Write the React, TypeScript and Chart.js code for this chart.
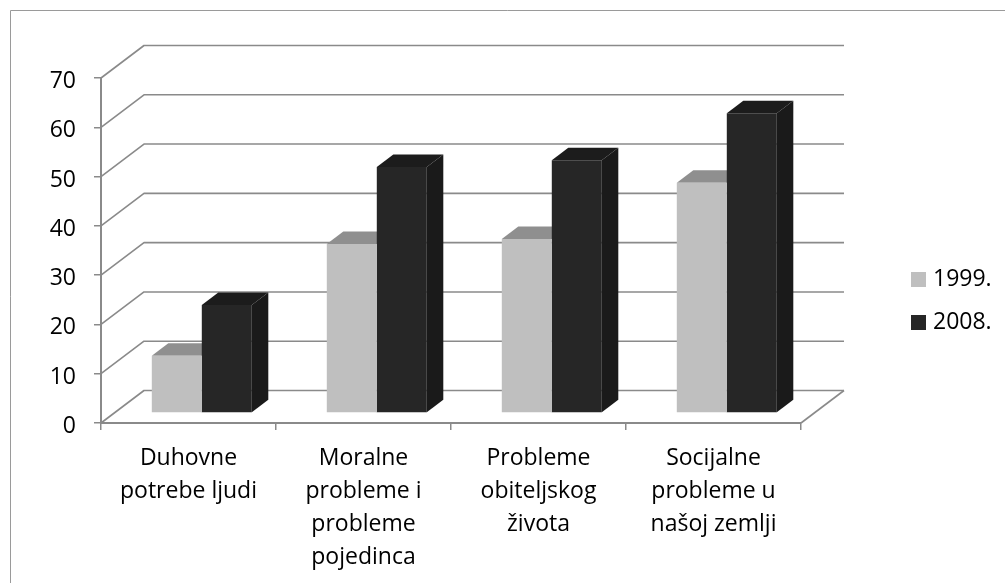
import React, { useEffect, useRef } from "react";
import { Chart, registerables } from "chart.js";

Chart.register(...registerables);

const categories = [
  ["Duhovne", "potrebe ljudi"],
  ["Moralne", "probleme i", "probleme", "pojedinca"],
  ["Probleme", "obiteljskog", "života"],
  ["Socijalne", "probleme u", "našoj zemlji"],
];
const series1999 = [11.6, 34.3, 35.3, 46.7];
const series2008 = [21.9, 49.9, 51.3, 60.8];
const yTicksMax = 70;
const yTicksStep = 10;

const FONT = "Open Sans";
const FS = 23;
const GRID = "#8a8a8a";
const WALL = { dx: 43, dy: -32.5 };
const BAR_OFFSET = { dx: 13.3, dy: -10 };
const BAR_DEPTH = { dx: 16.5, dy: -12.5 };
const SHADES = [
  { top: "#8f8f8f", side: "#8f8f8f" },
  { top: "#1c1c1c", side: "#1a1a1a" },
];

const poly = (ctx: CanvasRenderingContext2D, pts: number[][], fill: string) => {
  ctx.beginPath();
  pts.forEach(([x, y], i) => (i ? ctx.lineTo(x, y) : ctx.moveTo(x, y)));
  ctx.closePath();
  ctx.fillStyle = fill;
  ctx.fill();
};

const plugin3d = {
  id: "plugin3d",
  afterLayout(chart: any) {
    const l = chart.legend;
    if (l) {
      const w = l.width, h = l.height;
      l.left = 895.5;
      l.top = 248;
      l.right = l.left + w;
      l.bottom = l.top + h;
    }
  },
  beforeDraw(chart: any) {
    const { ctx, width } = chart;
    ctx.save();
    ctx.fillStyle = "#ffffff";
    ctx.fillRect(0, 0, width, chart.height);
    ctx.strokeStyle = "#9a9a9a";
    ctx.lineWidth = 1;
    ctx.beginPath();
    ctx.moveTo(10.5, chart.height);
    ctx.lineTo(10.5, 10.5);
    ctx.lineTo(width, 10.5);
    ctx.stroke();
    ctx.restore();
  },
  beforeDatasetsDraw(chart: any) {
    const { ctx, chartArea } = chart;
    const yS = chart.scales.y;
    ctx.save();
    ctx.strokeStyle = GRID;
    ctx.lineWidth = 1.6;
    ctx.lineJoin = "round";
    yS.ticks.forEach((t: any) => {
      const y = yS.getPixelForValue(t.value);
      ctx.beginPath();
      ctx.moveTo(chartArea.left, y);
      ctx.lineTo(chartArea.left + WALL.dx, y + WALL.dy);
      ctx.lineTo(chartArea.right + WALL.dx, y + WALL.dy);
      ctx.stroke();
    });
    const y0 = yS.getPixelForValue(0);
    ctx.beginPath();
    ctx.moveTo(chartArea.right, y0);
    ctx.lineTo(chartArea.right + WALL.dx, y0 + WALL.dy);
    ctx.stroke();
    ctx.restore();

    // Depth faces of the bars, light series first; the library paints the fronts over them.
    ctx.save();
    ctx.translate(BAR_OFFSET.dx, BAR_OFFSET.dy);
    const { dx, dy } = BAR_DEPTH;
    chart.data.datasets.forEach((_: any, i: number) => {
      chart.getDatasetMeta(i).data.forEach((bar: any) => {
        const { x, y, base, width } = bar.getProps(["x", "y", "base", "width"], true);
        const l = x - width / 2;
        const r = x + width / 2;
        poly(ctx, [[l, y], [l + dx, y + dy], [r + dx, y + dy], [r, y]], SHADES[i].top);
        poly(ctx, [[r, y], [r + dx, y + dy], [r + dx, base + dy], [r, base]], SHADES[i].side);
      });
    });
    ctx.restore();
  },
  beforeDatasetDraw(chart: any) {
    chart.ctx.save();
    chart.ctx.translate(BAR_OFFSET.dx, BAR_OFFSET.dy);
  },
  afterDatasetDraw(chart: any) {
    chart.ctx.restore();
  },
};

export default function App() {
  const ref = useRef<HTMLCanvasElement>(null);
  useEffect(() => {
    const chart = new Chart(ref.current!, {
      type: "bar",
      data: {
        labels: categories as any,
        datasets: [
          { label: "1999.", data: series1999, backgroundColor: "#bfbfbf", clip: false as any },
          { label: "2008.", data: series2008, backgroundColor: "#262626", clip: false as any },
        ],
      },
      plugins: [plugin3d],
      options: {
        responsive: false,
        animation: false,
        layout: { padding: { left: 0, top: 78, right: 204, bottom: 0 } },
        datasets: { bar: { barPercentage: 1, categoryPercentage: 100 / 175 } },
        plugins: {
          title: { display: false },
          tooltip: { enabled: false },
          legend: {
            position: "chartArea" as any,
            align: "start",
            labels: {
              // A 6px swatch with a 9px outline paints a 15px square while keeping the label close to it.
              boxWidth: 6,
              boxHeight: 6,
              padding: 20,
              color: "#000000",
              font: { family: FONT, size: FS },
              generateLabels: (c: any) =>
                Chart.defaults.plugins.legend.labels
                  .generateLabels(c)
                  .map((it: any) => ({ ...it, lineWidth: 9, strokeStyle: it.fillStyle })),
            },
          },
        },
        scales: {
          x: {
            afterFit: (s: any) => { s.height = 160; },
            grid: { drawOnChartArea: false, drawTicks: true, tickLength: 7, color: GRID, lineWidth: 1.5 },
            border: { color: GRID, width: 2 },
            ticks: {
              autoSkip: false,
              maxRotation: 0,
              minRotation: 0,
              padding: 12,
              color: "#000000",
              font: { family: FONT, size: FS, lineHeight: "33px" as any },
            },
          },
          y: {
            min: 0,
            max: yTicksMax,
            afterFit: (s: any) => { s.width = 101; },
            grid: { drawOnChartArea: false, drawTicks: true, tickLength: 7, color: GRID, lineWidth: 1.5 },
            border: { color: GRID, width: 2 },
            ticks: {
              stepSize: yTicksStep,
              padding: 18,
              color: "#000000",
              font: { family: FONT, size: FS, lineHeight: "7px" as any },
              callback: (v: any) => ["", String(v)],
            },
          },
        },
      },
    });
    return () => chart.destroy();
  }, []);
  return (
    <canvas
      ref={ref}
      width={1005}
      height={583}
      style={{ position: "absolute", left: 0, top: 0, width: 1005, height: 583 }}
    />
  );
}
